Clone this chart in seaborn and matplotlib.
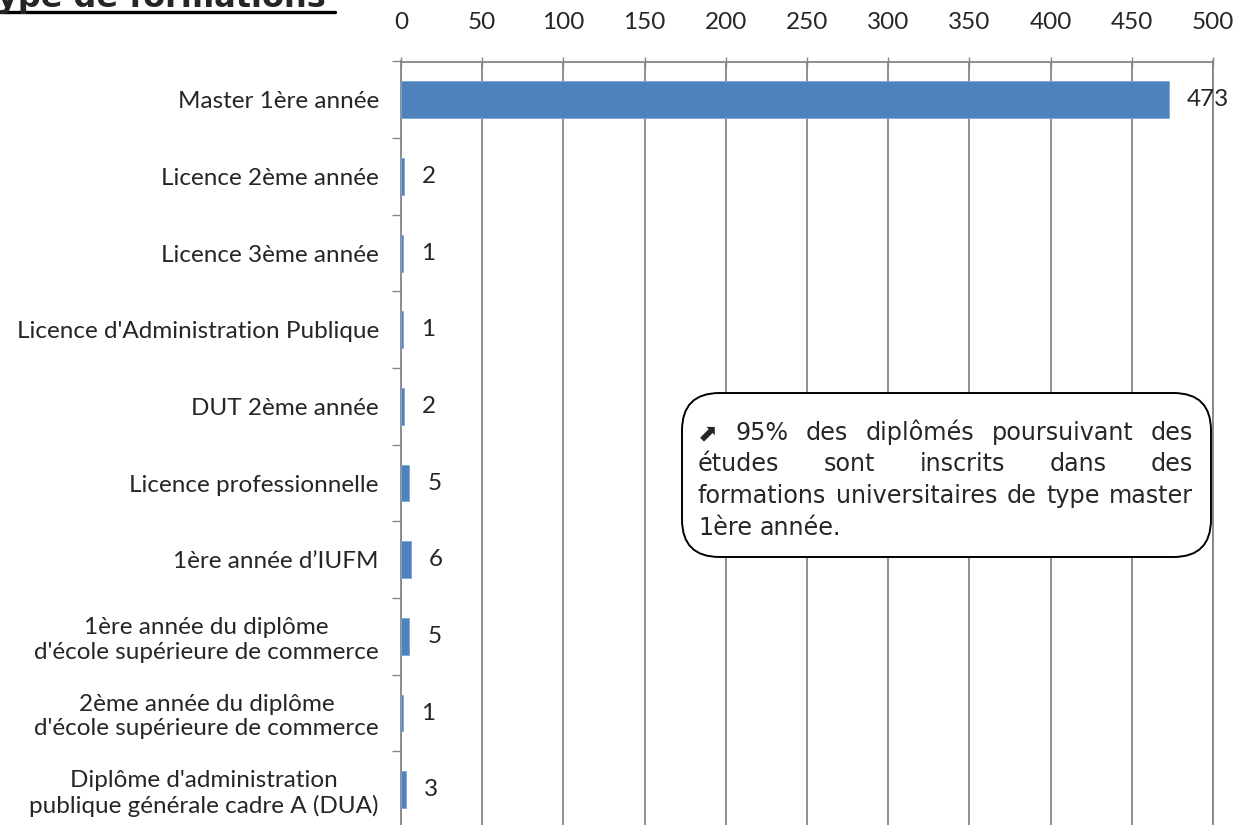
import matplotlib
matplotlib.use("Agg")
import matplotlib.pyplot as plt
import seaborn as sns
import pandas as pd
from matplotlib.patches import FancyBboxPatch
from matplotlib.lines import Line2D
from matplotlib.ticker import FixedLocator

categories = [
    "Master 1ère année",
    "Licence 2ème année",
    "Licence 3ème année",
    "Licence d'Administration Publique",
    "DUT 2ème année",
    "Licence professionnelle",
    "1ère année d\u2019IUFM",
    "1ère année du diplôme\nd'école supérieure de commerce",
    "2ème année du diplôme\nd'école supérieure de commerce",
    "Diplôme d'administration\npublique générale cadre A (DUA)",
]
values = [473, 2, 1, 1, 2, 5, 6, 5, 1, 3]
x_ticks = [0, 50, 100, 150, 200, 250, 300, 350, 400, 450, 500]
title_text = "Type de formations"
note_lines = [
    "\u2b08 95% des diplômés poursuivant des",
    "études sont inscrits dans des",
    "formations universitaires de type master",
    "1ère année.",
]

sns.set_style("white")
plt.rcParams["font.family"] = ["Lato", "DejaVu Sans"]

W, H = 1251, 825
fig = plt.figure(figsize=(W / 100, H / 100), dpi=100)


def fx(px):
    return px / W


def fy(py):
    return 1 - py / H


ax = fig.add_axes([fx(401), fy(828), fx(1213) - fx(401), fy(61.5) - fy(828)])

df = pd.DataFrame({"cat": categories, "val": values})
sns.barplot(data=df, y="cat", x="val", orient="h", order=categories,
            color="#4F81BD", saturation=1, width=0.48, ax=ax,
            edgecolor="#7FA6D6", linewidth=0.6, zorder=3)

ax.set_xlim(0, 500)
ax.set_ylim(len(categories) - 0.5, -0.5)
ax.set_xlabel("")
ax.set_ylabel("")

lab_fs = 17.5
gray = "#868686"
ax.xaxis.set_ticks_position("top")
ax.xaxis.set_label_position("top")
ax.set_xticks(x_ticks)
ax.set_xticklabels([str(t) for t in x_ticks])
ax.tick_params(axis="x", direction="inout", length=7, width=1, color=gray,
               labelsize=lab_fs, pad=17, top=True, bottom=False)
ax.grid(axis="x", color=gray, linewidth=1.3, zorder=0)
ax.set_axisbelow(True)

ax.tick_params(axis="y", which="major", length=0, pad=16, labelsize=lab_fs)
ax.yaxis.set_minor_locator(FixedLocator([i - 0.5 for i in range(len(categories) + 1)]))
ax.tick_params(axis="y", which="minor", length=6.5, width=1, color=gray, direction="out", left=True)

for side in ["top", "left", "right"]:
    ax.spines[side].set_visible(True)
    ax.spines[side].set_color(gray)
    ax.spines[side].set_linewidth(1.3)
ax.spines["bottom"].set_visible(False)

for i, v in enumerate(values):
    ax.annotate(str(v), xy=(v, i), xytext=(13, 0), textcoords="offset points",
                ha="left", va="center", fontsize=lab_fs, clip_on=False, annotation_clip=False)

# Title (partially cropped at the top, as in the reference)
t = fig.text(fx(326), fy(7), title_text, ha="right", va="baseline",
             fontsize=23, fontweight="bold", family="DejaVu Sans")
fig.add_artist(Line2D([0, fx(335)], [fy(11.5), fy(11.5)], color="black", linewidth=2.4,
                      transform=fig.transFigure))

# Note box
box = FancyBboxPatch((fx(682), fy(557)), fx(1211) - fx(682), fy(393) - fy(557),
                     boxstyle="round,pad=0,rounding_size=0.03",
                     transform=fig.transFigure, facecolor="white",
                     edgecolor="black", linewidth=1.4, zorder=5,
                     mutation_aspect=W / H)
fig.add_artist(box)

fig.canvas.draw()
for tick in ax.yaxis.get_major_ticks():
    tick.label1.set_multialignment("center")
    tick.label1.set_linespacing(1.2)

renderer = fig.canvas.get_renderer()
left_px, right_px = 698, 1193


def text_w(s, size, weight="normal"):
    tt = fig.text(0, 0, s, fontsize=size, family="DejaVu Sans", fontweight=weight)
    w = tt.get_window_extent(renderer).width
    tt.remove()
    return w


ref_w = text_w(note_lines[2], 10)
fs = 10 * (right_px - left_px) / ref_w * 0.985
space_w = text_w("a a", fs) - text_w("aa", fs)
baselines = [440, 471, 503, 535]
for li, line in enumerate(note_lines):
    words = line.split(" ")
    widths = [text_w(w, fs) for w in words]
    if li < len(note_lines) - 1 and len(words) > 1:
        gap = (right_px - left_px - sum(widths)) / (len(words) - 1)
    else:
        gap = space_w
    x = left_px
    for w, wd in zip(words, widths):
        fig.text(fx(x), fy(baselines[li]), w, fontsize=fs, family="DejaVu Sans",
                 ha="left", va="baseline", zorder=6)
        x += wd + gap

fig.savefig("out.png", dpi=100)
